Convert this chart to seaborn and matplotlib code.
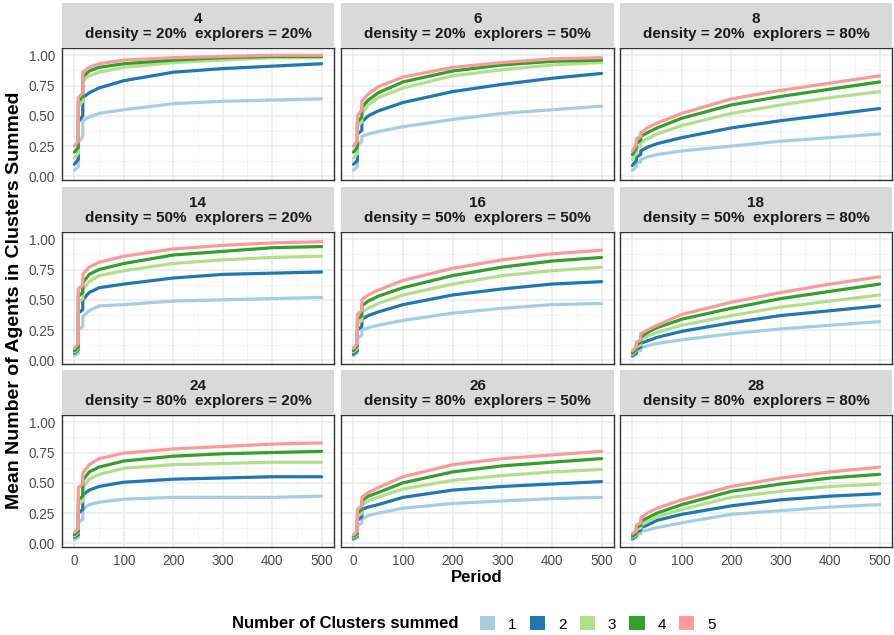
import numpy as np
import pandas as pd
import matplotlib
matplotlib.use("Agg")
import matplotlib.pyplot as plt
import seaborn as sns
from matplotlib.patches import Rectangle, Patch
from matplotlib.ticker import MultipleLocator

# ---------------- data ----------------
PERIODS = [0, 8, 8, 17, 17, 30, 50, 100, 200, 300, 400, 500]
FACET_IDS = ["4", "6", "8", "14", "16", "18", "24", "26", "28"]
DENSITY = ["20%", "20%", "20%", "50%", "50%", "50%", "80%", "80%", "80%"]
EXPLORERS = ["20%", "50%", "80%", "20%", "50%", "80%", "20%", "50%", "80%"]
CLUSTERS = ["1", "2", "3", "4", "5"]
COLORS = ["#A6CEE3", "#1F78B4", "#B2DF8A", "#33A02C", "#FB9A99"]
X_TICKS = [0, 100, 200, 300, 400, 500]
Y_TICKS = [0.0, 0.25, 0.5, 0.75, 1.0]
Y_TICK_LABELS = ["0.00", "0.25", "0.50", "0.75", "1.00"]

P4 = [
    [0.05, 0.08, 0.28, 0.33, 0.46, 0.49, 0.52, 0.55, 0.60, 0.62, 0.63, 0.64],
    [0.10, 0.14, 0.45, 0.50, 0.65, 0.69, 0.73, 0.79, 0.86, 0.89, 0.91, 0.93],
    [0.15, 0.19, 0.58, 0.62, 0.79, 0.83, 0.86, 0.90, 0.94, 0.96, 0.98, 0.98],
    [0.20, 0.24, 0.62, 0.66, 0.82, 0.87, 0.90, 0.93, 0.96, 0.98, 0.99, 0.99],
    [0.25, 0.29, 0.65, 0.69, 0.86, 0.90, 0.93, 0.96, 0.98, 0.99, 1.00, 1.00],
]
P6 = [
    [0.05, 0.08, 0.25, 0.29, 0.33, 0.35, 0.37, 0.41, 0.47, 0.52, 0.55, 0.58],
    [0.10, 0.13, 0.35, 0.38, 0.45, 0.50, 0.54, 0.61, 0.70, 0.76, 0.81, 0.85],
    [0.15, 0.19, 0.42, 0.45, 0.52, 0.59, 0.65, 0.73, 0.83, 0.88, 0.92, 0.94],
    [0.20, 0.24, 0.45, 0.49, 0.57, 0.63, 0.69, 0.78, 0.87, 0.92, 0.95, 0.96],
    [0.25, 0.29, 0.50, 0.55, 0.62, 0.68, 0.74, 0.82, 0.90, 0.94, 0.97, 0.98],
]
P8 = [
    [0.05, 0.08, 0.11, 0.12, 0.14, 0.16, 0.18, 0.21, 0.25, 0.29, 0.32, 0.35],
    [0.09, 0.13, 0.16, 0.18, 0.21, 0.24, 0.27, 0.32, 0.40, 0.46, 0.51, 0.56],
    [0.14, 0.19, 0.23, 0.25, 0.28, 0.31, 0.35, 0.42, 0.52, 0.59, 0.65, 0.70],
    [0.18, 0.23, 0.27, 0.30, 0.33, 0.36, 0.40, 0.48, 0.59, 0.66, 0.72, 0.78],
    [0.21, 0.26, 0.31, 0.33, 0.36, 0.40, 0.44, 0.52, 0.64, 0.71, 0.77, 0.83],
]
P14 = [
    [0.04, 0.06, 0.25, 0.28, 0.36, 0.41, 0.45, 0.46, 0.49, 0.50, 0.51, 0.52],
    [0.06, 0.09, 0.39, 0.42, 0.50, 0.56, 0.60, 0.63, 0.68, 0.71, 0.72, 0.73],
    [0.07, 0.10, 0.48, 0.51, 0.59, 0.65, 0.70, 0.74, 0.80, 0.83, 0.85, 0.86],
    [0.08, 0.11, 0.53, 0.56, 0.64, 0.71, 0.75, 0.80, 0.87, 0.90, 0.93, 0.94],
    [0.10, 0.14, 0.59, 0.62, 0.71, 0.77, 0.81, 0.86, 0.92, 0.95, 0.97, 0.98],
]
P16 = [
    [0.04, 0.06, 0.18, 0.21, 0.25, 0.27, 0.29, 0.33, 0.39, 0.43, 0.46, 0.47],
    [0.05, 0.08, 0.25, 0.28, 0.34, 0.37, 0.40, 0.46, 0.54, 0.59, 0.63, 0.65],
    [0.07, 0.10, 0.30, 0.33, 0.40, 0.43, 0.47, 0.54, 0.63, 0.70, 0.74, 0.77],
    [0.08, 0.12, 0.34, 0.37, 0.45, 0.49, 0.53, 0.60, 0.70, 0.77, 0.82, 0.85],
    [0.10, 0.14, 0.38, 0.41, 0.50, 0.54, 0.58, 0.66, 0.76, 0.83, 0.88, 0.91],
]
P18 = [
    [0.03, 0.05, 0.07, 0.08, 0.10, 0.12, 0.14, 0.17, 0.22, 0.26, 0.29, 0.32],
    [0.04, 0.06, 0.09, 0.11, 0.14, 0.16, 0.19, 0.24, 0.31, 0.37, 0.41, 0.45],
    [0.05, 0.08, 0.11, 0.13, 0.17, 0.20, 0.23, 0.29, 0.37, 0.44, 0.49, 0.54],
    [0.06, 0.09, 0.13, 0.15, 0.19, 0.23, 0.27, 0.34, 0.43, 0.51, 0.57, 0.63],
    [0.08, 0.11, 0.15, 0.17, 0.22, 0.25, 0.29, 0.38, 0.48, 0.56, 0.63, 0.69],
]
P24 = [
    [0.03, 0.05, 0.17, 0.20, 0.28, 0.32, 0.34, 0.365, 0.38, 0.38, 0.38, 0.39],
    [0.05, 0.07, 0.25, 0.28, 0.40, 0.44, 0.47, 0.505, 0.53, 0.54, 0.55, 0.55],
    [0.06, 0.09, 0.32, 0.35, 0.46, 0.53, 0.57, 0.62, 0.65, 0.66, 0.67, 0.67],
    [0.07, 0.10, 0.36, 0.39, 0.52, 0.59, 0.63, 0.68, 0.72, 0.74, 0.75, 0.76],
    [0.09, 0.12, 0.46, 0.49, 0.58, 0.65, 0.70, 0.745, 0.78, 0.80, 0.82, 0.83],
]
P26 = [
    [0.03, 0.05, 0.14, 0.17, 0.20, 0.23, 0.25, 0.29, 0.33, 0.35, 0.37, 0.38],
    [0.04, 0.06, 0.19, 0.22, 0.28, 0.30, 0.32, 0.38, 0.44, 0.47, 0.49, 0.51],
    [0.05, 0.07, 0.22, 0.25, 0.32, 0.35, 0.38, 0.45, 0.52, 0.56, 0.59, 0.61],
    [0.06, 0.08, 0.25, 0.28, 0.35, 0.39, 0.42, 0.50, 0.59, 0.64, 0.67, 0.70],
    [0.07, 0.10, 0.28, 0.31, 0.38, 0.42, 0.46, 0.55, 0.65, 0.70, 0.73, 0.76],
]
P28 = [
    [0.03, 0.05, 0.07, 0.08, 0.10, 0.11, 0.13, 0.17, 0.24, 0.27, 0.30, 0.32],
    [0.04, 0.06, 0.09, 0.11, 0.13, 0.15, 0.19, 0.24, 0.31, 0.36, 0.39, 0.41],
    [0.05, 0.07, 0.11, 0.13, 0.15, 0.18, 0.22, 0.28, 0.38, 0.43, 0.47, 0.49],
    [0.06, 0.08, 0.13, 0.15, 0.18, 0.21, 0.25, 0.32, 0.43, 0.49, 0.54, 0.57],
    [0.08, 0.10, 0.15, 0.17, 0.21, 0.25, 0.29, 0.36, 0.47, 0.54, 0.59, 0.63],
]
PANELS = [P4, P6, P8, P14, P16, P18, P24, P26, P28]

# ---------------- long table ----------------
rows_ = []
for fid, panel in zip(FACET_IDS, PANELS):
    for cl, vals in zip(CLUSTERS, panel):
        for order, (p, v) in enumerate(zip(PERIODS, vals)):
            rows_.append({"facet": fid, "Cluster": cl, "Period": p,
                          "Value": v, "order": order})
df = pd.DataFrame(rows_)

# ---------------- style ----------------
sns.set_theme(style="white")
plt.rcParams["font.family"] = ["Liberation Sans", "DejaVu Sans"]

W, H = 894, 635
fig = plt.figure(figsize=(W / 100, H / 100), dpi=100)
fig.patch.set_facecolor("white")


def fx(x):
    return x / W


def fy(y):
    return 1 - y / H


COLS = [(62, 334), (341, 614), (620, 892)]
ROWS = [(3, 48, 180), (187, 232, 364), (370, 415, 547)]

for i, fid in enumerate(FACET_IDS):
    r, c = divmod(i, 3)
    x0, x1 = COLS[c]
    s0, p0, p1 = ROWS[r]
    ax = fig.add_axes([fx(x0), fy(p1), (x1 - x0) / W, (p1 - p0) / H])
    sub = df[df["facet"] == fid].sort_values(["Cluster", "order"])
    sns.lineplot(data=sub, x="Period", y="Value", hue="Cluster",
                 hue_order=CLUSTERS, palette=COLORS, estimator=None,
                 sort=False, legend=False, linewidth=2.3, ax=ax)
    ax.set_xlim(-25, 525)
    ax.set_ylim(-0.03, 1.06)
    ax.set_xticks(X_TICKS)
    ax.set_yticks(Y_TICKS)
    ax.xaxis.set_minor_locator(MultipleLocator(50))
    ax.yaxis.set_minor_locator(MultipleLocator(0.125))
    ax.grid(which="major", color="#EBEBEB", linewidth=1.1)
    ax.grid(which="minor", color="#F2F2F2", linewidth=0.6)
    ax.set_axisbelow(True)
    for sp in ax.spines.values():
        sp.set_color("#333333")
        sp.set_linewidth(1.0)
    ax.set_xlabel("")
    ax.set_ylabel("")
    ax.tick_params(which="minor", length=0)
    ax.tick_params(which="major", direction="out", length=3, width=0.8,
                   color="#333333", labelcolor="#4D4D4D", labelsize=9.8, pad=2)
    if c == 0:
        ax.set_yticklabels(Y_TICK_LABELS)
    else:
        ax.tick_params(axis="y", length=0, labelleft=False)
    if r == 2:
        ax.set_xticklabels([str(t) for t in X_TICKS])
    else:
        ax.tick_params(axis="x", length=0, labelbottom=False)

    fig.add_artist(Rectangle((fx(x0), fy(p0)), (x1 - x0) / W, (p0 - s0) / H,
                             transform=fig.transFigure, facecolor="#D9D9D9",
                             edgecolor="none"))
    fig.text((fx(x0) + fx(x1)) / 2, fy((s0 + p0) / 2 + 1),
             f"{fid}\ndensity = {DENSITY[i]}  explorers = {EXPLORERS[i]}",
             ha="center", va="center", fontsize=11, fontweight="bold",
             color="#1A1A1A", linespacing=1.15)

fig.text(fx(15), fy(300), "Mean Number of Agents in Clusters Summed",
         rotation=90, ha="center", va="center", fontsize=14,
         fontweight="bold", color="black")
fig.text(fx(477), fy(578), "Period", ha="center", va="center",
         fontsize=12, fontweight="bold", color="black")

fig.text(fx(232), fy(624), "Number of Clusters summed", ha="left",
         va="center", fontsize=12, fontweight="bold", color="black")
handles = [Patch(facecolor=col, edgecolor="none") for col in COLORS]
fig.legend(handles, CLUSTERS, ncol=5, loc="center left",
           bbox_to_anchor=(fx(480), fy(624)), frameon=False,
           fontsize=11, handlelength=1.0, handleheight=1.0,
           handletextpad=0.85, columnspacing=0.85, borderaxespad=0,
           borderpad=0, labelcolor="black")

fig.savefig("out.png", dpi=100, facecolor="white")
